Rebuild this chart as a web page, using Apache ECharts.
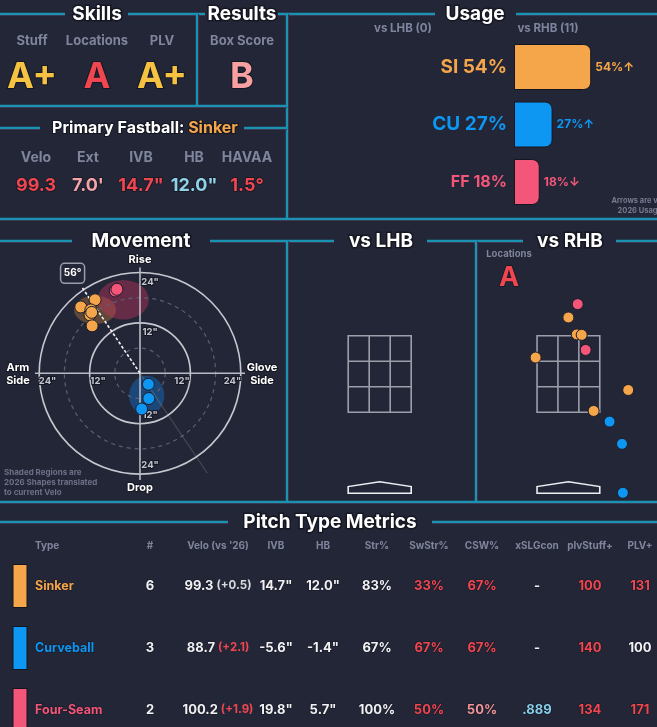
<!DOCTYPE html>
<html>
<head>
<meta charset="utf-8">
<title>Pitcher summary</title>
<script src="https://cdn.jsdelivr.net/npm/echarts@6/dist/echarts.min.js"></script>
<style>
  html, body { margin: 0; padding: 0; background: #232636; }
  #main { width: 657px; height: 727px; }
</style>
</head>
<body>
<div id="main"></div>
<script>
// ---------- data ----------
const pitchNames = ['Sinker', 'Curveball', 'Four-Seam'];
const pitchCodes = ['SI', 'CU', 'FF'];
const usageRHB = [54, 27, 18];
const usageTrend = ['↑', '↑', '↓'];

const skillHeaders = ['Stuff', 'Locations', 'PLV'];
const skillGrades = ['A+', 'A', 'A+'];
const resultHeader = 'Box Score';
const resultGrade = 'B';
const locationGrade = 'A';

const fbName = 'Sinker';
const fbHeaders = ['Velo', 'Ext', 'IVB', 'HB', 'HAVAA'];
const fbValues = ['99.3', "7.0'", '14.7"', '12.0"', '1.5°'];

// movement in inches: [horizontal break (arm side +), induced vertical break]
const mvSinker = [[10.7, 17.5], [14.1, 15.8], [11.7, 15.1], [11.9, 13.9], [11.4, 11.3], [11.5, 14.5]];
const mvCurve = [[-2.0, -2.6], [-2.1, -6.0], [-0.4, -8.5]];
const mvFour = [[5.9, 19.6], [5.5, 20.0]];
const armAngle = 56;
const movementRings = [6, 12, 18, 24];
const movementTicks = [12, 24];
// 2026 shapes: [hb, ivb, half width, half height]
const shapeSinker = [10.7, 15.1, 5.0, 3.4];
const shapeCurve = [-1.6, -5.3, 4.2, 4.7];
const shapeFour = [4.0, 17.5, 6.1, 4.7];

// locations vs RHB in feet: [plate_x, plate_z]; none vs LHB
const locSinker = [[0.0, 3.76], [0.19, 3.38], [0.30, 3.37], [-0.74, 2.86], [1.35, 2.13], [0.57, 1.66]];
const locCurve = [[0.93, 1.42], [1.21, 0.92], [1.23, -0.18]];
const locFour = [[0.21, 4.06], [0.39, 3.03]];

// table
const tableHeaders = ['Type', '#', "Velo (vs '26)", 'IVB', 'HB', 'Str%', 'SwStr%', 'CSW%', 'xSLGcon', 'plvStuff+', 'PLV+'];
const tCount = ['6', '3', '2'];
const tVelo = ['99.3', '88.7', '100.2'];
const tVeloDiff = ['(+0.5)', '(+2.1)', '(+1.9)'];
const tIVB = ['14.7"', '-5.6"', '19.8"'];
const tHB = ['12.0"', '-1.4"', '5.7"'];
const tStr = ['83%', '67%', '100%'];
const tSwStr = ['33%', '67%', '50%'];
const tCSW = ['67%', '67%', '50%'];
const tXslg = ['-', '-', '.889'];
const tStuff = ['100', '140', '134'];
const tPLV = ['131', '100', '171'];

// ---------- style ----------
const FONT = 'Inter, "Noto Sans", sans-serif';
const BG = '#232636';
const FRAME = '#1a93b3';
const GREY = '#7f859c';
const OUT = '#151722';
const pitchColors = ['#f5a54a', '#0d96f2', '#f4567a'];
const shapeColors = ['rgba(196,130,60,0.38)', 'rgba(20,110,195,0.48)', 'rgba(195,50,95,0.42)'];
const TONE = { w: '#f1f1f5', r: '#ef4650', p: '#f2949a', b: '#86cde6', g: '#d8d9e0', y: '#f5c242' };
const ZONE = '#9c9ea9';
const zoneX = [-0.708, 0.708];
const zoneZ = [1.63, 3.35];
const platePts = [[-0.708, -0.19], [-0.708, -0.04], [0, 0.07], [0.708, -0.04], [0.708, -0.19]];

function txt(x, y, text, size, fill, extra) {
  return {
    type: 'text', x: x, y: y, silent: true, z: 10,
    style: Object.assign({
      text: text, fill: fill, font: 'bold ' + size + 'px ' + FONT,
      textAlign: 'center', textVerticalAlign: 'middle'
    }, extra || {})
  };
}
function title(x, y, text) {
  return txt(x, y, text, 19, '#ffffff', { stroke: OUT, lineWidth: 3 });
}
function seg(x1, y1, x2, y2, color, width) {
  return { type: 'line', silent: true, z: 5, shape: { x1: x1, y1: y1, x2: x2, y2: y2 }, style: { stroke: color, lineWidth: width } };
}

const graphics = [];
// frame (teal line with a thin dark shadow under it)
[
  [0, 14, 65, 14], [128, 14, 205, 14], [278, 14, 435, 14], [516, 14, 657, 14],
  [197, 14, 197, 106], [287, 14, 287, 219], [0, 106, 287, 106],
  [0, 128, 40, 128], [244, 128, 287, 128], [0, 219, 657, 219],
  [0, 241, 72, 241], [210, 241, 334, 241], [427, 241, 523, 241], [616, 241, 657, 241],
  [287, 241, 287, 502], [476, 241, 476, 502], [0, 502, 657, 502],
  [0, 522, 228, 522], [432, 522, 657, 522]
].forEach(s => {
  const horiz = s[1] === s[3];
  graphics.push(seg(s[0] + (horiz ? 0 : 1.6), s[1] + (horiz ? 1.6 : 0), s[2] + (horiz ? 0 : 1.6), s[3] + (horiz ? 1.6 : 0), '#4a1e38', 1));
  graphics.push(seg(s[0], s[1], s[2], s[3], FRAME, 2.4));
});

graphics.push(title(97, 14, 'Skills'));
graphics.push(title(242, 14, 'Results'));
graphics.push(title(475, 14, 'Usage'));
graphics.push(title(141, 241, 'Movement'));
graphics.push(title(381, 241, 'vs LHB'));
graphics.push(title(570, 241, 'vs RHB'));
graphics.push(title(330, 522, 'Pitch Type Metrics'));

// skills
const skillX = [32, 97, 162];
const gradeTone = ['y', 'r', 'y'];
skillHeaders.forEach((h, i) => {
  graphics.push(txt(skillX[i], 41, h, 13, GREY));
  graphics.push(txt(skillX[i], 77, skillGrades[i], 36, TONE[gradeTone[i]], { stroke: OUT, lineWidth: 2 }));
});
graphics.push(txt(242, 41, resultHeader, 13, GREY));
graphics.push(txt(242, 77, resultGrade, 36, '#f6a0a2', { stroke: OUT, lineWidth: 2 }));

// primary fastball
graphics.push({
  type: 'text', x: 145, y: 128, silent: true, z: 10,
  style: {
    text: '{w|Primary Fastball: }{o|' + fbName + '}',
    textAlign: 'center', textVerticalAlign: 'middle',
    rich: {
      w: { fill: '#ffffff', font: 'bold 16px ' + FONT, stroke: OUT, lineWidth: 2 },
      o: { fill: pitchColors[0], font: 'bold 16px ' + FONT, stroke: OUT, lineWidth: 2 }
    }
  }
});
const fbX = [36, 88, 141, 194, 247];
const fbTone = ['#ef4650', '#f4a3aa', '#ef4650', '#8fd3e8', '#ef4650'];
fbHeaders.forEach((h, i) => {
  graphics.push(txt(fbX[i], 158, h, 14, GREY));
  graphics.push(txt(fbX[i], 186, fbValues[i], 18, fbTone[i], { stroke: OUT, lineWidth: 1.5 }));
});

// usage headers and note
graphics.push(txt(403, 29, 'vs LHB (0)', 11.5, GREY));
graphics.push(txt(548, 29, 'vs RHB (11)', 11.5, GREY));
graphics.push(txt(662, 201, 'Arrows are vs', 7.5, '#757a90', { textAlign: 'right' }));
graphics.push(txt(662, 211, '2026 Usage', 7.5, '#757a90', { textAlign: 'right' }));

// movement labels
graphics.push(txt(140, 260, 'Rise', 11, '#ffffff', { stroke: OUT, lineWidth: 2 }));
graphics.push(txt(140, 488, 'Drop', 11, '#ffffff', { stroke: OUT, lineWidth: 2 }));
graphics.push(txt(18, 374, 'Arm\nSide', 11, '#ffffff', { stroke: OUT, lineWidth: 2, lineHeight: 13 }));
graphics.push(txt(262, 374, 'Glove\nSide', 11, '#ffffff', { stroke: OUT, lineWidth: 2, lineHeight: 13 }));
['Shaded Regions are', '2026 Shapes translated', 'to current Velo'].forEach((s, i) => {
  graphics.push(txt(4, 473 + i * 9.6, s, 8, '#6c7187', { textAlign: 'left' }));
});

// locations grade
graphics.push(txt(509, 254, 'Locations', 9.5, GREY));
graphics.push(txt(509, 278, locationGrade, 27, '#ef4650', { stroke: OUT, lineWidth: 1.5 }));

// table
const colX = [35, 150, 218, 276, 323, 377, 429, 482, 537, 590, 640];
const rowY = [586, 648, 710];
tableHeaders.forEach((h, i) => {
  graphics.push(txt(colX[i], 546, h, 10, GREY, i === 0 ? { textAlign: 'left' } : {}));
});
const tableCols = [
  { vals: tCount, x: colX[1], tone: 'www' },
  { vals: tIVB, x: colX[3], tone: 'www' },
  { vals: tHB, x: colX[4], tone: 'www' },
  { vals: tStr, x: colX[5], tone: 'www' },
  { vals: tSwStr, x: colX[6], tone: 'rrr' },
  { vals: tCSW, x: colX[7], tone: 'rrp' },
  { vals: tXslg, x: colX[8], tone: 'wwb' },
  { vals: tStuff, x: colX[9], tone: 'rrr' },
  { vals: tPLV, x: colX[10], tone: 'rwr' }
];
const veloDiffTone = 'grr';
pitchNames.forEach((name, r) => {
  const y = rowY[r];
  graphics.push({
    type: 'rect', silent: true, z: 10,
    shape: { x: 13, y: y - 21.5, width: 14, height: 43 },
    style: { fill: pitchColors[r], stroke: '#14161f', lineWidth: 1 }
  });
  graphics.push(txt(colX[0], y, name, 12.5, pitchColors[r], { textAlign: 'left', stroke: OUT, lineWidth: 1 }));
  tableCols.forEach(c => {
    graphics.push(txt(c.x, y, c.vals[r], 13, TONE[c.tone[r]], { stroke: OUT, lineWidth: 1 }));
  });
  graphics.push({
    type: 'text', x: colX[2], y: y, silent: true, z: 10,
    style: {
      text: '{v|' + tVelo[r] + '}{d|' + tVeloDiff[r] + '}',
      textAlign: 'center', textVerticalAlign: 'middle',
      rich: {
        v: { fill: TONE.w, font: 'bold 13px ' + FONT, stroke: OUT, lineWidth: 1, padding: [0, 3, 0, 0] },
        d: { fill: TONE[veloDiffTone[r]], font: 'bold 11.5px ' + FONT }
      }
    }
  });
});

// ---------- series helpers ----------
function scatter(gi, data, color, size) {
  return {
    type: 'scatter', xAxisIndex: gi, yAxisIndex: gi, data: data, symbolSize: size, z: 4,
    itemStyle: { color: color, borderColor: '#1b1d2a', borderWidth: 1, opacity: 1 }
  };
}
function zoneSeries(gi) {
  return {
    type: 'custom', xAxisIndex: gi, yAxisIndex: gi, silent: true, z: 2,
    data: [[zoneX[0], zoneZ[0], zoneX[1], zoneZ[1]]],
    renderItem: function (p, api) {
      const x0 = api.value(0), z0 = api.value(1), x1 = api.value(2), z1 = api.value(3);
      const ls = { stroke: ZONE, lineWidth: 1.6 };
      const tl = api.coord([x0, z1]), br = api.coord([x1, z0]);
      const children = [{ type: 'rect', shape: { x: tl[0], y: tl[1], width: br[0] - tl[0], height: br[1] - tl[1] }, style: Object.assign({ fill: 'none' }, ls) }];
      for (let i = 1; i < 3; i++) {
        const xi = x0 + (x1 - x0) * i / 3, zi = z0 + (z1 - z0) * i / 3;
        const a = api.coord([xi, z0]), b = api.coord([xi, z1]);
        const c = api.coord([x0, zi]), d = api.coord([x1, zi]);
        children.push({ type: 'line', shape: { x1: a[0], y1: a[1], x2: b[0], y2: b[1] }, style: ls });
        children.push({ type: 'line', shape: { x1: c[0], y1: c[1], x2: d[0], y2: d[1] }, style: ls });
      }
      children.push({ type: 'polygon', shape: { points: platePts.map(q => api.coord(q)) }, style: { fill: BG, stroke: '#eceef2', lineWidth: 1.6 } });
      return { type: 'group', children: children };
    }
  };
}

const rad = armAngle * Math.PI / 180;
const movementSeries = [
  { // shaded 2026 shapes
    type: 'custom', xAxisIndex: 1, yAxisIndex: 1, silent: true, z: 1,
    data: [shapeSinker, shapeCurve, shapeFour],
    renderItem: function (p, api) {
      const c = api.coord([api.value(0), api.value(1)]);
      const rx = Math.abs(api.size([api.value(2), 0])[0]);
      const ry = Math.abs(api.size([0, api.value(3)])[1]);
      return {
        type: 'circle', x: c[0], y: c[1], scaleY: ry / rx,
        shape: { cx: 0, cy: 0, r: rx },
        style: { fill: shapeColors[p.dataIndex] }
      };
    }
  },
  { // rings
    type: 'custom', xAxisIndex: 1, yAxisIndex: 1, silent: true, z: 2,
    data: movementRings.map(r => [0, 0, r]),
    renderItem: function (p, api) {
      const c = api.coord([0, 0]);
      const r = Math.abs(api.size([api.value(2), 0])[0]);
      const solid = movementTicks.indexOf(api.value(2)) >= 0;
      return {
        type: 'circle', shape: { cx: c[0], cy: c[1], r: r },
        style: solid ? { fill: 'none', stroke: '#c6c8d0', lineWidth: 1.6 }
                     : { fill: 'none', stroke: '#5b5f72', lineWidth: 1.2, lineDash: [4, 4] }
      };
    }
  },
  { // axes cross + arm angle
    type: 'custom', xAxisIndex: 1, yAxisIndex: 1, silent: true, z: 3,
    data: [
      [25, 0, -25, 0, 0],
      [0, 25.2, 0, -25.4, 0],
      [0, 0, -28.7 * Math.cos(rad), -28.7 * Math.sin(rad), 1],
      [0, 0, 24.5 * Math.cos(rad), 24.5 * Math.sin(rad), 2]
    ],
    renderItem: function (p, api) {
      const a = api.coord([api.value(0), api.value(1)]);
      const b = api.coord([api.value(2), api.value(3)]);
      const kind = api.value(4);
      const style = kind === 0 ? { stroke: '#b9bbc4', lineWidth: 1.6 }
        : kind === 1 ? { stroke: 'rgba(170,172,185,0.25)', lineWidth: 1.2 }
        : { stroke: '#f2f2f5', lineWidth: 1.6, lineDash: [3, 2] };
      return { type: 'line', shape: { x1: a[0], y1: a[1], x2: b[0], y2: b[1] }, style: style };
    }
  },
  { // tick labels
    type: 'custom', xAxisIndex: 1, yAxisIndex: 1, silent: true, z: 3,
    data: [].concat(
      movementTicks.map(t => [t - 2, -1.8, t]),
      movementTicks.map(t => [-(t - 2), -1.8, t]),
      movementTicks.map(t => [-2.4, t - 2.3, t]),
      movementTicks.map(t => [-2.4, -(t - 2.1), t])
    ),
    renderItem: function (p, api) {
      const c = api.coord([api.value(0), api.value(1)]);
      return {
        type: 'text', x: c[0], y: c[1],
        style: { text: api.value(2) + '"', fill: '#c3c5ce', font: 'bold 9.5px ' + FONT, textAlign: 'center', textVerticalAlign: 'middle', stroke: OUT, lineWidth: 2 }
      };
    }
  },
  scatter(1, mvSinker, pitchColors[0], 12),
  scatter(1, mvCurve, pitchColors[1], 12),
  scatter(1, mvFour, pitchColors[2], 12),
  { // arm angle label
    type: 'custom', xAxisIndex: 1, yAxisIndex: 1, silent: true, z: 6,
    data: [[28.7 * Math.cos(rad), 28.7 * Math.sin(rad), armAngle]],
    renderItem: function (p, api) {
      const c = api.coord([api.value(0), api.value(1)]);
      return {
        type: 'group', children: [
          { type: 'rect', shape: { x: c[0] - 12, y: c[1] - 10, width: 24, height: 20, r: 4 }, style: { fill: BG, stroke: '#9a9daa', lineWidth: 1.5 } },
          { type: 'text', x: c[0], y: c[1], style: { text: api.value(2) + '°', fill: '#ffffff', font: 'bold 10px ' + FONT, textAlign: 'center', textVerticalAlign: 'middle' } }
        ]
      };
    }
  }
];

const usageData = usageRHB.map((v, i) => ({
  value: v,
  itemStyle: { color: pitchColors[i] },
  label: { color: pitchColors[i] }
}));

const option = {
  backgroundColor: BG,
  animation: false,
  grid: [
    { left: 514, top: 38.25, width: 165, height: 172.5 },
    { left: 14, top: 247.3, width: 252, height: 252 },
    { left: 290.7, top: 262.3, width: 178, height: 244.75 },
    { left: 479.8, top: 262.3, width: 178, height: 244.75 }
  ],
  xAxis: [
    { gridIndex: 0, type: 'value', min: 0, max: 100, show: false },
    { gridIndex: 1, type: 'value', min: -30, max: 30, inverse: true, show: false },
    { gridIndex: 2, type: 'value', min: -2, max: 2, show: false },
    { gridIndex: 3, type: 'value', min: -2, max: 2, show: false }
  ],
  yAxis: [
    {
      gridIndex: 0, type: 'category', inverse: true, data: pitchCodes,
      axisLine: { show: false }, axisTick: { show: false },
      axisLabel: {
        margin: 7,
        formatter: (v, i) => '{c' + i + '|' + v + ' ' + usageRHB[i] + '%}',
        rich: {
          c0: { color: pitchColors[0], fontSize: 19, fontWeight: 'bold', fontFamily: FONT },
          c1: { color: pitchColors[1], fontSize: 19, fontWeight: 'bold', fontFamily: FONT },
          c2: { color: pitchColors[2], fontSize: 16, fontWeight: 'bold', fontFamily: FONT }
        }
      }
    },
    { gridIndex: 1, type: 'value', min: -30, max: 30, show: false },
    { gridIndex: 2, type: 'value', min: -0.5, max: 5, show: false },
    { gridIndex: 3, type: 'value', min: -0.5, max: 5, show: false }
  ],
  series: [
    {
      type: 'bar', xAxisIndex: 0, yAxisIndex: 0, barWidth: 46, data: usageData,
      itemStyle: { borderColor: '#14161f', borderWidth: 1, borderRadius: [0, 7, 7, 0] },
      label: {
        show: true, position: 'right', distance: 4,
        fontSize: 12, fontWeight: 'bold', fontFamily: FONT,
        formatter: p => p.value + '%' + usageTrend[p.dataIndex]
      }
    }
  ].concat(movementSeries, [
    zoneSeries(2),
    zoneSeries(3),
    scatter(3, locSinker, pitchColors[0], 11),
    scatter(3, locCurve, pitchColors[1], 11),
    scatter(3, locFour, pitchColors[2], 11)
  ]),
  graphic: graphics
};

const chart = echarts.init(document.getElementById('main'));
chart.setOption(option);
window.onresize = function () { chart.resize(); };
</script>
</body>
</html>
